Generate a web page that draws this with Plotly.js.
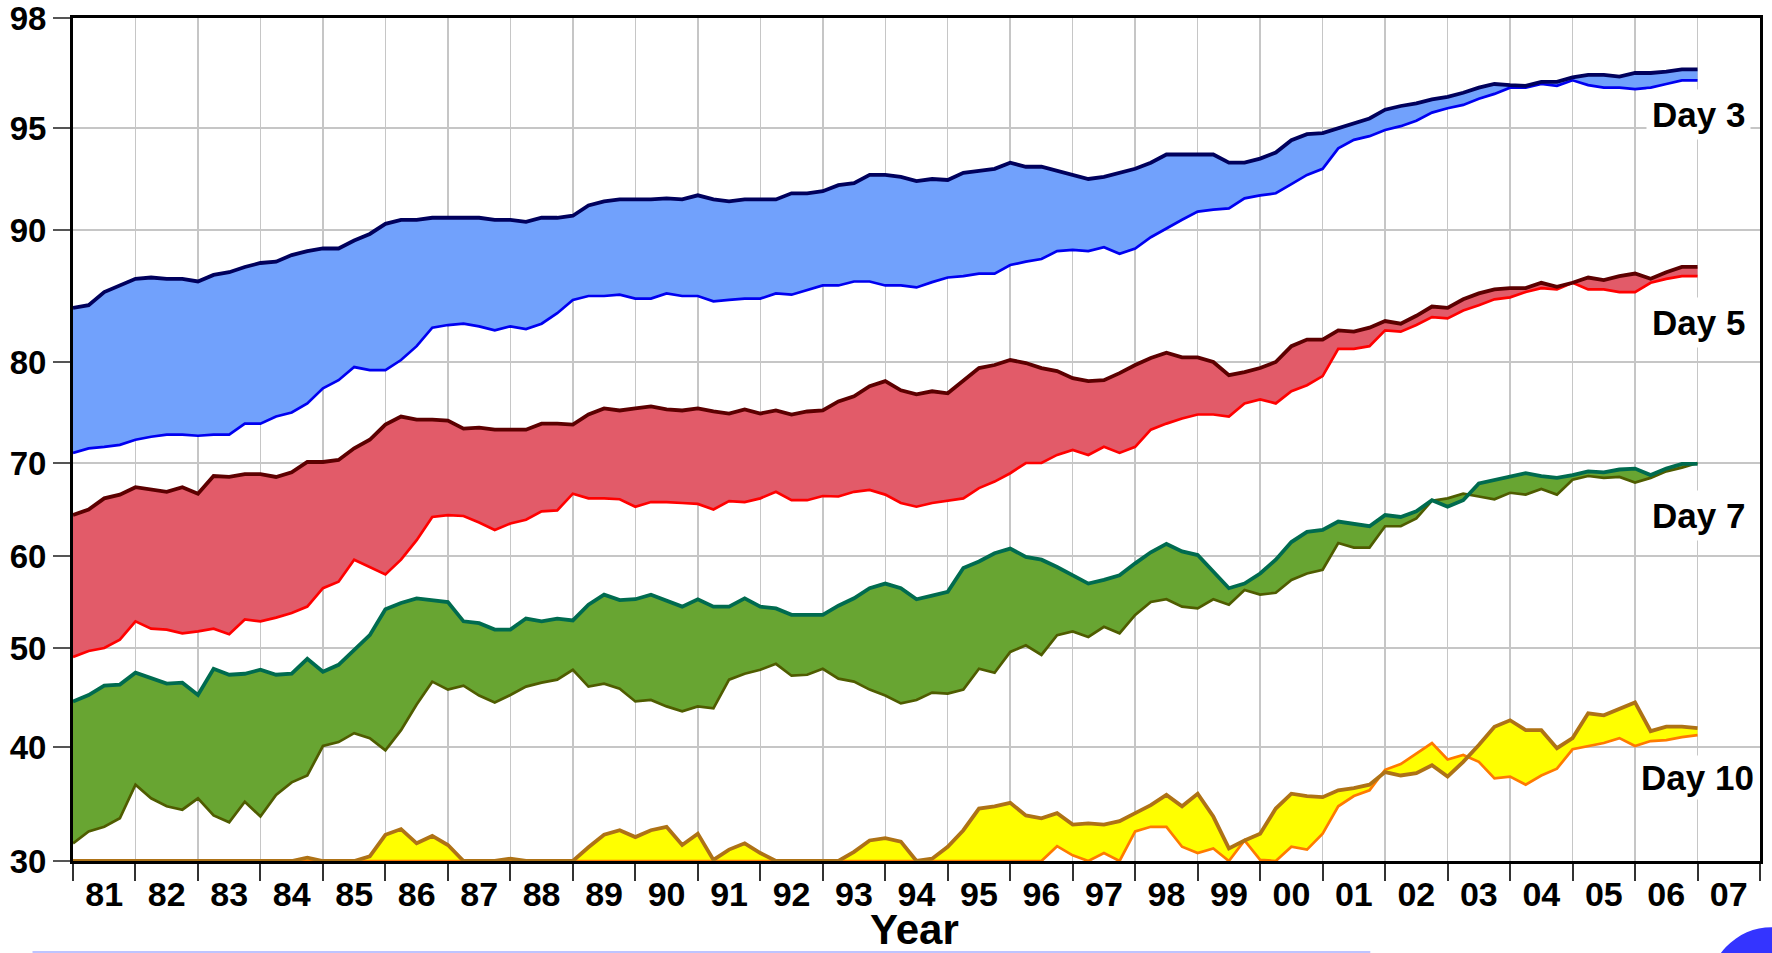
<!DOCTYPE html>
<html>
<head>
<meta charset="utf-8">
<script src="https://cdn.plot.ly/plotly-3.0.1.min.js"></script>
<style>
  html, body { margin: 0; padding: 0; background: #ffffff; }
  #chart { width: 1772px; height: 953px; }
</style>
</head>
<body>
<div id="chart"></div>
<script>
// ---------- Data (quarterly values, 1981.0 .. 2007.0) ----------
const startYear = 1981;
const nPoints = 105;
const quarters = Array.from({length: nPoints}, (_, i) => startYear + i / 4);

const yearLabels = ['81','82','83','84','85','86','87','88','89','90','91','92','93','94',
                    '95','96','97','98','99','00','01','02','03','04','05','06','07'];

const day3Upper = [84.1,84.3,85.3,85.8,86.3,86.4,86.3,86.3,86.1,86.6,86.8,87.2,87.5,87.6,88.1,88.4,
  88.6,88.6,89.2,89.7,90.3,90.5,90.5,90.6,90.6,90.6,90.6,90.5,90.5,90.4,90.6,90.6,
  90.7,91.2,91.4,91.5,91.5,91.5,91.55,91.5,91.7,91.5,91.4,91.5,91.5,91.5,91.8,91.8,
  91.9,92.2,92.3,92.7,92.7,92.6,92.4,92.5,92.45,92.8,92.9,93.0,93.3,93.1,93.1,92.9,
  92.7,92.5,92.6,92.8,93.0,93.3,93.7,93.7,93.7,93.7,93.3,93.3,93.5,93.8,94.4,94.7,
  94.75,95.0,95.13,95.26,95.5,95.6,95.67,95.78,95.85,95.96,96.1,96.2,96.17,96.15,96.26,96.26,
  96.38,96.45,96.45,96.4,96.5,96.5,96.54,96.6,96.6];
const day3Lower = [71.0,71.45,71.6,71.8,72.3,72.6,72.8,72.8,72.7,72.8,72.8,73.9,73.9,74.6,75.0,75.9,
  77.4,78.2,79.5,79.2,79.2,80.15,81.2,82.6,82.8,82.9,82.7,82.4,82.7,82.5,82.9,83.7,
  84.7,85.0,85.0,85.1,84.8,84.8,85.2,85.0,85.0,84.6,84.7,84.8,84.8,85.2,85.1,85.45,
  85.8,85.8,86.1,86.1,85.8,85.8,85.65,86.05,86.4,86.5,86.7,86.7,87.35,87.6,87.8,88.4,
  88.5,88.4,88.7,88.2,88.6,89.45,90.08,90.5,90.9,91.0,91.06,91.55,91.7,91.8,92.25,92.7,
  93.0,94.0,94.42,94.6,94.9,95.05,95.2,95.42,95.54,95.63,95.8,95.93,96.1,96.1,96.2,96.15,
  96.3,96.17,96.1,96.1,96.06,96.1,96.2,96.3,96.3];

const day5Upper = [64.4,65.0,66.2,66.6,67.4,67.1,66.9,67.4,66.7,68.6,68.5,68.8,68.8,68.5,69.0,70.1,
  70.1,70.3,71.45,72.3,73.8,74.6,74.3,74.3,74.2,73.4,73.5,73.3,73.3,73.3,73.9,73.9,
  73.8,74.8,75.4,75.2,75.4,75.6,75.3,75.2,75.4,75.1,74.9,75.3,74.9,75.2,74.8,75.1,
  75.2,76.1,76.6,77.6,78.1,77.2,76.8,77.1,76.9,78.1,79.4,79.7,80.15,79.9,79.4,79.1,
  78.4,78.1,78.2,78.9,79.7,80.3,80.7,80.35,80.35,80.0,78.7,79.0,79.4,80.0,81.2,81.7,
  81.7,82.4,82.3,82.6,83.1,82.9,83.5,84.2,84.1,84.75,85.2,85.5,85.6,85.6,86.0,85.7,
  86.0,86.4,86.2,86.5,86.7,86.3,86.8,87.2,87.2];
const day5Lower = [49.1,49.7,50.0,50.9,52.9,52.1,52.0,51.6,51.8,52.1,51.5,53.1,52.9,53.3,53.8,54.5,
  56.5,57.2,59.6,58.8,58.0,59.6,61.7,64.2,64.4,64.3,63.6,62.8,63.5,63.9,64.8,64.9,
  66.7,66.2,66.2,66.1,65.3,65.8,65.8,65.7,65.6,65.0,65.9,65.8,66.2,66.9,66.0,66.0,
  66.45,66.4,66.9,67.1,66.6,65.7,65.3,65.7,65.95,66.2,67.3,68.0,68.9,70.0,70.0,70.8,
  71.3,70.8,71.6,71.0,71.6,73.3,73.9,74.4,74.8,74.8,74.6,75.9,76.3,75.9,77.1,77.7,
  78.6,81.0,81.0,81.2,82.4,82.3,82.8,83.4,83.3,83.9,84.3,84.75,84.9,85.3,85.6,85.5,
  86.0,85.5,85.5,85.3,85.3,86.0,86.3,86.5,86.5];

const day7Upper = [44.6,45.25,46.2,46.3,47.5,46.9,46.4,46.5,45.25,47.9,47.3,47.4,47.8,47.3,47.4,48.9,
  47.6,48.3,49.8,51.4,54.2,54.9,55.4,55.2,55.0,52.9,52.7,52.0,52.0,53.2,52.9,53.2,
  53.0,54.7,55.8,55.2,55.3,55.8,55.2,54.5,55.3,54.5,54.5,55.4,54.5,54.3,53.6,53.6,
  53.6,54.6,55.4,56.5,57.0,56.5,55.3,55.7,56.1,58.7,59.4,60.3,60.8,59.9,59.6,58.8,
  57.9,57.0,57.4,57.9,59.2,60.4,61.3,60.5,60.1,58.3,56.5,57.0,58.1,59.6,61.5,62.6,
  62.8,63.7,63.5,63.2,64.4,64.2,64.8,66.0,65.3,66.0,67.8,68.2,68.5,68.9,68.6,68.4,
  68.7,69.1,69.0,69.3,69.4,68.7,69.4,69.9,69.9];
const day7Lower = [31.55,32.6,33.0,33.75,36.7,35.5,34.8,34.5,35.5,34.0,33.4,35.2,33.9,35.8,36.9,37.5,
  40.1,40.5,41.4,40.9,39.7,41.7,44.3,46.6,45.8,46.2,45.2,44.5,45.25,46.1,46.5,46.8,
  47.8,46.1,46.4,45.9,44.6,44.75,44.1,43.6,44.1,43.9,46.8,47.4,47.8,48.4,47.2,47.3,
  47.9,46.9,46.6,45.8,45.2,44.4,44.75,45.5,45.4,45.8,47.9,47.5,49.6,50.3,49.3,51.4,
  51.8,51.2,52.3,51.6,53.6,55.0,55.3,54.5,54.3,55.3,54.7,56.3,55.8,56.0,57.4,58.1,
  58.5,61.4,60.9,60.9,63.2,63.2,64.05,65.95,66.2,66.7,66.4,66.1,66.8,66.6,67.2,66.6,
  68.2,68.6,68.4,68.5,67.9,68.4,69.1,69.5,70.0];

// values below the axis floor (30) are shown on the floor, as in the source
const day10Upper = [30,30,30,30,30,30,30,30,30,30,30,30,30,30,30,30.3,
  30,30,30,30.4,32.3,32.8,31.55,32.2,31.4,30,30,30,30.2,30,30,30,
  30,31.2,32.3,32.7,32.1,32.7,33.0,31.4,32.4,30.1,31.0,31.55,30.7,30,30,30,
  30,30,30.8,31.8,32.0,31.7,30,30.2,31.25,32.7,34.6,34.8,35.1,34.0,33.75,34.2,
  33.2,33.3,33.2,33.5,34.2,34.9,35.8,34.8,35.9,33.9,31.1,31.8,32.4,34.6,35.9,35.7,
  35.6,36.2,36.4,36.7,37.8,37.5,37.7,38.4,37.4,38.7,40.2,42.05,42.7,41.7,41.7,39.9,
  40.9,43.4,43.2,43.9,44.5,41.6,42.05,42.05,41.9];
const day10Lower = [30,30,30,30,30,30,30,30,30,30,30,30,30,30,30,30,
  30,30,30,30,30,30,30,30,30,30,30,30,30,30,30,30,
  30,30,30,30,30,30,30,30,30,30,30,30,30,30,30,30,
  30,30,30,30,30,30,30,30,30,30,30,30,30,30,30,31.3,
  30.5,30,30.7,30,32.6,33.0,33.0,31.25,30.7,31.1,30,31.8,30.1,30,31.25,31.0,
  32.4,34.8,35.7,36.2,38.0,38.5,39.4,40.4,38.9,39.3,38.7,37.25,37.4,36.7,37.5,38.1,
  39.8,40.1,40.4,40.9,40.1,40.6,40.7,41.0,41.2];

// ---------- Non-linear vertical scale (tick value -> axis position) ----------
const scaleTicks = [30, 40, 50, 60, 70, 80, 90, 95, 98];
const scalePos   = [0, 114, 213, 305, 398, 499, 631, 733, 843];
function scaleY(v) {
  if (v <= scaleTicks[0]) return scalePos[0];
  for (let k = 1; k < scaleTicks.length; k++) {
    if (v <= scaleTicks[k]) {
      const f = (v - scaleTicks[k-1]) / (scaleTicks[k] - scaleTicks[k-1]);
      return scalePos[k-1] + f * (scalePos[k] - scalePos[k-1]);
    }
  }
  return scalePos[scalePos.length - 1];
}

// ---------- Styles ----------
const series = [
  {name: 'Day 3',  lower: day3Lower,  upper: day3Upper,  lowColor: '#0000f0', upColor: '#00005c', fill: '#71a1fc'},
  {name: 'Day 5',  lower: day5Lower,  upper: day5Upper,  lowColor: '#ff0000', upColor: '#5c0000', fill: '#e25b69'},
  {name: 'Day 7',  lower: day7Lower,  upper: day7Upper,  lowColor: '#4f5c00', upColor: '#006b4f', fill: '#68a532'},
  {name: 'Day 10', lower: day10Lower, upper: day10Upper, lowColor: '#ff7a00', upColor: '#ae7216', fill: '#ffff00'}
];

const traces = [];
series.forEach(s => {
  traces.push({
    x: quarters, y: s.lower.map(scaleY), type: 'scatter', mode: 'lines',
    line: {color: s.lowColor, width: 2.7}, hoverinfo: 'skip', showlegend: false
  });
  traces.push({
    x: quarters, y: s.upper.map(scaleY), type: 'scatter', mode: 'lines',
    fill: 'tonexty', fillcolor: s.fill,
    line: {color: s.upColor, width: 3.8}, hoverinfo: 'skip', showlegend: false
  });
});

const midYears = yearLabels.map((_, i) => startYear + i + 0.5);
traces.push({x: midYears, y: midYears.map(() => null), xaxis: 'x2', yaxis: 'y',
  type: 'scatter', mode: 'lines', hoverinfo: 'skip', showlegend: false});

const FONT = 'Liberation Sans, Arial, Helvetica, sans-serif';
const gridColor = '#c6c6c6';

const layout = {
  width: 1772, height: 953,
  margin: {l: 73, r: 12, t: 18, b: 92},
  paper_bgcolor: '#ffffff', plot_bgcolor: '#ffffff',
  showlegend: false,
  font: {family: FONT, color: '#000000'},
  xaxis: {
    range: [1981, 2008], tickmode: 'linear', tick0: 1981, dtick: 1,
    ticks: 'outside', ticklen: 17, tickwidth: 2, tickcolor: '#333333',
    showticklabels: false,
    showgrid: true, gridcolor: gridColor, gridwidth: 1.5,
    showline: true, linecolor: '#000000', linewidth: 3, mirror: true,
    zeroline: false, fixedrange: true
  },
  xaxis2: {
    overlaying: 'x', anchor: 'y', side: 'bottom',
    range: [1981, 2008], tickmode: 'array', tickvals: midYears, ticktext: yearLabels,
    ticks: 'outside', ticklen: 3, tickcolor: 'rgba(0,0,0,0)',
    tickfont: {family: FONT, size: 34, weight: 'bold', color: '#000000'},
    showgrid: false, showline: false, zeroline: false
  },
  yaxis: {
    range: [0, 843], tickmode: 'array', tickvals: scalePos, ticktext: scaleTicks.map(String),
    ticks: 'outside', ticklen: 17, tickwidth: 2, tickcolor: '#555555',
    ticklabeloverflow: 'allow',
    tickfont: {family: FONT, size: 33, weight: 'bold', color: '#000000'},
    showgrid: true, gridcolor: gridColor, gridwidth: 1.5,
    showline: true, linecolor: '#000000', linewidth: 3, mirror: true,
    zeroline: false, fixedrange: true
  },
  annotations: [
    {text: 'Day 3',  x: 0.9638, y: 0.885, size: 35, pad: 5, bg: '#ffffff'},
    {text: 'Day 5',  x: 0.9638, y: 0.639, size: 35, pad: 5, bg: '#ffffff'},
    {text: 'Day 7',  x: 0.9638, y: 0.410, size: 35, pad: 5, bg: '#ffffff'},
    {text: 'Day 10', x: 0.9628, y: 0.0985, size: 35, pad: 2, bg: '#ffffff'},
    {text: 'Year',   x: 0.4986, y: -0.0815, size: 42, pad: 0, bg: 'rgba(0,0,0,0)'}
  ].map(a => ({
    text: a.text, x: a.x, y: a.y, xref: 'paper', yref: 'paper',
    showarrow: false, xanchor: 'center', yanchor: 'middle',
    bgcolor: a.bg, borderpad: a.pad,
    font: {family: FONT, size: a.size, weight: 'bold', color: '#000000'}
  })),
  shapes: [
    {type: 'line', xref: 'paper', yref: 'paper', x0: -0.024, x1: 0.769, y0: -0.108, y1: -0.108,
     line: {color: '#a9b1ff', width: 1.5}},
    {type: 'circle', xref: 'paper', yref: 'paper', x0: 0.9686, x1: 1.045, y0: -0.0785, y1: -0.24,
     fillcolor: '#3434ff', line: {width: 0}}
  ]
};

Plotly.newPlot('chart', traces, layout, {staticPlot: true, displayModeBar: false});
</script>
</body>
</html>
